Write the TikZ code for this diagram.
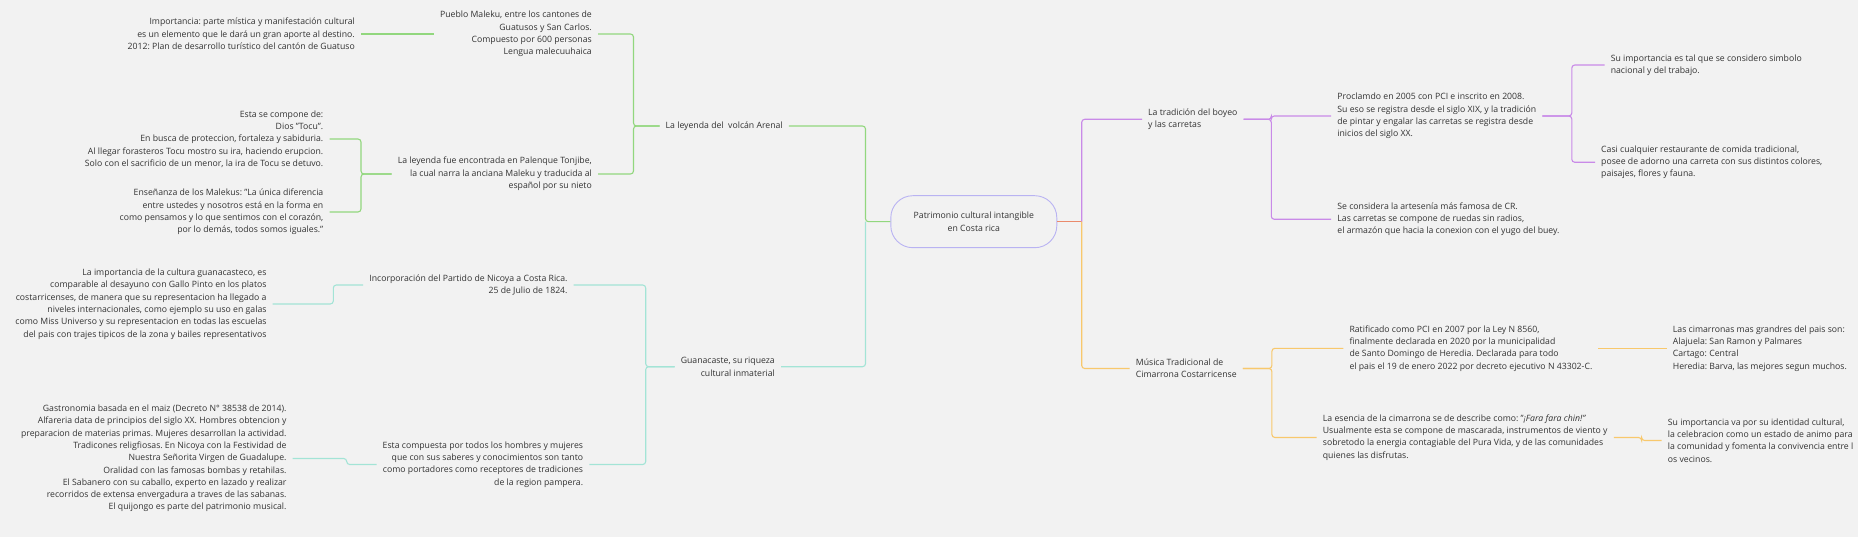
\documentclass[tikz,border=0pt]{standalone}
\usepackage{fontspec}
\setmainfont{Open Sans}
\frenchspacing
\definecolor{bgcol}{HTML}{F2F2F2}
\definecolor{txtcol}{HTML}{333333}
\definecolor{rootline}{HTML}{B9B3F2}
\definecolor{greenline}{HTML}{92D77E}
\definecolor{tealline}{HTML}{A3E4D6}
\definecolor{purpleline}{HTML}{C98AE8}
\definecolor{yellowline}{HTML}{F8C86C}
\definecolor{stubline}{HTML}{EA8A6C}
\newcommand\MapFont{\fontsize{8.7}{12.3}\selectfont}
\newcommand\Elbow[3]{%
    \draw (#1) -- (#1 -| #2) |- (#3);
}
\tikzset{
    topic/.style={font=\MapFont, text=txtcol, inner xsep=6pt, inner ysep=1pt},
    ltopic/.style={topic, align=right, anchor=east},
    rtopic/.style={topic, align=left, anchor=west},
    rootbox/.style={topic, draw=rootline, line width=0.9pt, rounded corners=22pt,
        minimum width=166pt, minimum height=52pt, align=center},
    branch/.style={line width=1.1pt, rounded corners=3pt},
}

\begin{document}
\begin{tikzpicture}[x=1pt,y=-1pt]
    \fill[bgcol] (0,0) rectangle (1858,537);
    \useasboundingbox (0,0) rectangle (1858,537);
    \node[rootbox] (root) at (973.8,221.7) {Patrimonio cultural intangible\\en Costa rica};
    % left side
    \node[rtopic] (leyenda) at (659.5,126) {La leyenda del~ volcán Arenal};
    \node[ltopic] (pueblo) at (598,34) {Pueblo Maleku, entre los cantones de\\Guatusos y San Carlos.\\Compuesto por 600 personas\\Lengua malecuuhaica};
    \node[ltopic] (leafImport) at (361,34) {Importancia: parte mística y manifestación cultural\\es un elemento que le dará un gran aporte al destino.\\2012: Plan de desarrollo turístico del cantón de Guatuso};
    \node[ltopic] (leyendaFue) at (598,174) {La leyenda fue encontrada en Palenque Tonjibe,\\la cual narra la anciana Maleku y traducida al\\español por su nieto};
    \node[ltopic] (esta) at (329.5,139) {Esta se compone de:\\Dios "Tocu".\\En busca de proteccion, fortaleza y sabiduria.\\Al llegar forasteros Tocu mostro su ira, haciendo erupcion.\\Solo con el sacrificio de un menor, la ira de Tocu se detuvo.};
    \node[ltopic] (ense) at (329.5,212) {Enseñanza de los Malekus: "La única diferencia\\entre ustedes y nosotros está en la forma en\\como pensamos y lo que sentimos con el corazón,\\por lo demás, todos somos iguales."};
    \node[ltopic] (guana) at (781,366.7) {Guanacaste, su riqueza\\cultural inmaterial};
    \node[ltopic] (incorp) at (573.7,285) {Incorporación del Partido de Nicoya a Costa Rica.\\25 de Julio de 1824.};
    \node[ltopic] (guanaImp) at (272.7,304) {La importancia de la cultura guanacasteco, es\\comparable al desayuno con Gallo Pinto en los platos\\costarricenses, de manera que su representacion ha llegado a\\niveles internacionales, como ejemplo su uso en galas\\como Miss Universo y su representacion en todas las escuelas\\del pais con trajes tipicos de la zona y bailes representativos};
    \node[ltopic] (compuesta) at (589.3,464.5) {Esta compuesta por todos los hombres y mujeres\\que con sus saberes y conocimientos son tanto\\como portadores como receptores de tradiciones\\de la region pampera.};
    \node[ltopic] (gastro) at (292.7,458.5) {Gastronomia basada en el maiz (Decreto N° 38538 de 2014).\\Alfareria data de principios del siglo XX. Hombres obtencion y\\preparacion de materias primas. Mujeres desarrollan la actividad.\\Tradicones religfiosas. En Nicoya con la Festividad de\\Nuestra Señorita Virgen de Guadalupe.\\Oralidad con las famosas bombas y retahilas.\\El Sabanero con su caballo, experto en lazado y realizar\\recorridos de extensa envergadura a traves de las sabanas.\\El quijongo es parte del patrimonio musical.};
    % right side
    \node[rtopic] (boyeo) at (1142,119.3) {La tradición del boyeo\\y las carretas};
    \node[rtopic] (proclam) at (1331.2,116) {Proclamdo en 2005 con PCI e inscrito en 2008.\\Su eso se registra desde el siglo XIX, y la tradición\\de pintar y engalar las carretas se registra desde\\inicios del siglo XX.};
    \node[rtopic] (artesania) at (1331.2,219.3) {Se considera la artesenía más famosa de CR.\\Las carretas se compone de ruedas sin radios,\\el armazón que hacia la conexion con el yugo del buey.};
    \node[rtopic] (simbolo) at (1604.6,65) {Su importancia es tal que se considero simbolo\\nacional y del trabajo.};
    \node[rtopic] (restaurante) at (1595,162.3) {Casi cualquier restaurante de comida tradicional,\\posee de adorno una carreta con sus distintos colores,\\paisajes, flores y fauna.};
    \node[rtopic] (musica) at (1129.7,368.5) {Música Tradicional de\\Cimarrona Costarricense};
    \node[rtopic] (ratif) at (1343.3,348.3) {Ratificado como PCI en 2007 por la Ley N 8560,\\finalmente declarada en 2020 por la municipalidad\\de Santo Domingo de Heredia. Declarada para todo\\el pais el 19 de enero 2022 por decreto ejecutivo N 43302-C.};
    \node[rtopic] (cimarronas) at (1666.7,348.3) {Las cimarronas mas grandres del pais son:\\Alajuela: San Ramon y Palmares\\Cartago: Central\\Heredia: Barva, las mejores segun muchos.};
    \node[rtopic] (esencia) at (1316.7,437.5) {La esencia de la cimarrona se de describe como: "\textit{¡Fara fara chin!"}\\Usualmente esta se compone de mascarada, instrumentos de viento y\\sobretodo la energia contagiable del Pura Vida, y de las comunidades\\quienes las disfrutas.};
    \node[rtopic] (identidad) at (1661.7,440.5) {Su importancia va por su identidad cultural,\\la celebracion como un estado de animo para\\la comunidad y fomenta la convivencia entre l\\os vecinos.};
    % junction columns
    \coordinate (jRootL) at (865.5,0);
    \coordinate (jLeyenda) at (633.5,0);
    \coordinate (jFue) at (361,0);
    \coordinate (jGuana) at (645.7,0);
    \coordinate (jIncorp) at (333.3,0);
    \coordinate (jCompuesta) at (346.7,0);
    \coordinate (jRootR) at (1081.7,0);
    \coordinate (jBoyeo) at (1271.3,0);
    \coordinate (jProclam) at (1571.8,0);
    \coordinate (jMusica) at (1271.9,0);
    \coordinate (jEsencia) at (1641.6,0);
    \begin{scope}[branch, color=greenline] % volcan
        \Elbow{root.west}{jRootL}{leyenda.east}
        \Elbow{leyenda.west}{jLeyenda}{pueblo.east}
        \Elbow{leyenda.west}{jLeyenda}{leyendaFue.east}
        \draw (pueblo.west) -- (leafImport.east);
        \Elbow{leyendaFue.west}{jFue}{esta.east}
        \Elbow{leyendaFue.west}{jFue}{ense.east}
    \end{scope}
    \begin{scope}[branch, color=tealline] % Guanacaste
        \draw (root.west -| jRootL) |- (guana.east);
        \Elbow{guana.west}{jGuana}{incorp.east}
        \Elbow{guana.west}{jGuana}{compuesta.east}
        \Elbow{incorp.west}{jIncorp}{guanaImp.east}
        \Elbow{compuesta.west}{jCompuesta}{gastro.east}
    \end{scope}
    \draw[branch, color=stubline] (root.east) -- (root.east -| jRootR);
    \begin{scope}[branch, color=purpleline] % boyeo
        \draw (root.east -| jRootR) |- (boyeo.west);
        \Elbow{boyeo.east}{jBoyeo}{proclam.west}
        \Elbow{boyeo.east}{jBoyeo}{artesania.west}
        \Elbow{proclam.east}{jProclam}{simbolo.west}
        \Elbow{proclam.east}{jProclam}{restaurante.west}
    \end{scope}
    \begin{scope}[branch, color=yellowline] % cimarrona
        \draw (root.east -| jRootR) |- (musica.west);
        \Elbow{musica.east}{jMusica}{ratif.west}
        \Elbow{musica.east}{jMusica}{esencia.west}
        \draw (ratif.east) -- (cimarronas.west);
        \Elbow{esencia.east}{jEsencia}{identidad.west}
    \end{scope}
\end{tikzpicture}
\end{document}
